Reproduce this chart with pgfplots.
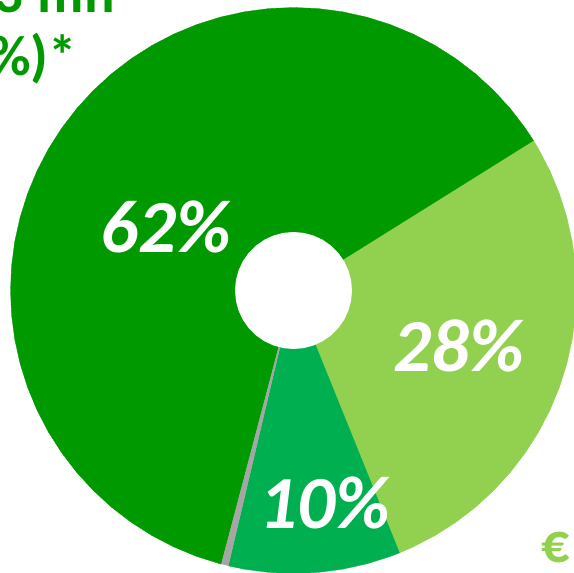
\documentclass[border=0pt]{standalone}
\usepackage{pgfplots}
\pgfplotsset{compat=1.18}
\usepackage{fontspec}
\setmainfont{Carlito}
\definecolor{dgreen}{RGB}{0,153,0}
\definecolor{lgreen}{RGB}{146,208,80}
\definecolor{mgreen}{RGB}{0,176,80}
\definecolor{sgrey}{RGB}{166,166,166}
\begin{document}
\begin{tikzpicture}
\begin{axis}[
  width=574pt, height=573pt, scale only axis,
  xmin=-293.5, xmax=280.5, ymin=-282.5, ymax=290.5,
  hide axis, clip=true,
]
% light green 28%
\addplot[data cs=polar, fill=lgreen, draw=lgreen, line width=0.3pt] coordinates {
(0,0) (-68,283) (-65,283) (-60,283) (-55,283) (-50,283) (-45,283) (-40,283) (-35,283)
(-30,283) (-25,283) (-20,283) (-15,283) (-10,283) (-5,283) (0,283) (5,283) (10,283)
(15,283) (20,283) (25,283) (30,283) (32,283) (0,0)} -- cycle;
% medium green 10%
\addplot[data cs=polar, fill=mgreen, draw=mgreen, line width=0.3pt] coordinates {
(0,0) (-103.3,283) (-100,283) (-95,283) (-90,283) (-85,283) (-80,283) (-75,283)
(-70,283) (-68,283) (0,0)} -- cycle;
% dark green 62%
\addplot[data cs=polar, fill=dgreen, draw=dgreen, line width=0.3pt] coordinates {
(0,0) (32,283) (35,283) (40,283) (45,283) (50,283) (55,283) (60,283) (65,283) (70,283)
(75,283) (80,283) (85,283) (90,283) (95,283) (100,283) (105,283) (110,283) (115,283)
(120,283) (125,283) (130,283) (135,283) (140,283) (145,283) (150,283) (155,283)
(160,283) (165,283) (170,283) (175,283) (180,283) (185,283) (190,283) (195,283)
(200,283) (205,283) (210,283) (215,283) (220,283) (225,283) (230,283) (235,283)
(240,283) (245,283) (250,283) (255,283) (255.2,283) (0,0)} -- cycle;
% grey sliver
\addplot[data cs=polar, fill=sgrey, draw=none] coordinates {
(0,0) (-104.8,283) (-104,283) (-103.3,283) (0,0)} -- cycle;
% hole
\addplot[data cs=polar, fill=white, draw=none] coordinates {
(0,58.5) (10,58.5) (20,58.5) (30,58.5) (40,58.5) (50,58.5) (60,58.5) (70,58.5) (80,58.5)
(90,58.5) (100,58.5) (110,58.5) (120,58.5) (130,58.5) (140,58.5) (150,58.5) (160,58.5)
(170,58.5) (180,58.5) (190,58.5) (200,58.5) (210,58.5) (220,58.5) (230,58.5) (240,58.5)
(250,58.5) (260,58.5) (270,58.5) (280,58.5) (290,58.5) (300,58.5) (310,58.5) (320,58.5)
(330,58.5) (340,58.5) (350,58.5) (360,58.5)} -- cycle;
% labels
\node[text=white, inner sep=0pt, font=\fontsize{75}{80}\selectfont\bfseries\itshape] at (axis cs:-128,64) {62\%};
\node[text=white, inner sep=0pt, font=\fontsize{75}{80}\selectfont\bfseries\itshape] at (axis cs:165.5,-55.5) {28\%};
\node[text=white, inner sep=0pt, font=\fontsize{75}{80}\selectfont\bfseries\itshape] at (axis cs:31.5,-212) {10\%};
\node[text=dgreen, inner sep=0pt, anchor=base east, font=\fontsize{57}{60}\selectfont\bfseries] at (axis cs:-178.5,277.5) {1\,093\hspace{0.26em}mn};
\node[text=dgreen, inner sep=0pt, anchor=base east, font=\fontsize{57}{60}\selectfont\bfseries] at (axis cs:-216.5,214.5) {(62\%)*};
\node[text=lgreen, inner sep=0pt, anchor=base west, font=\fontsize{56}{60}\selectfont\bfseries] at (axis cs:248,-272.5) {€};
\end{axis}
\pgfresetboundingbox
\path (current axis.south west) rectangle (current axis.north east);
\end{tikzpicture}
\end{document}
